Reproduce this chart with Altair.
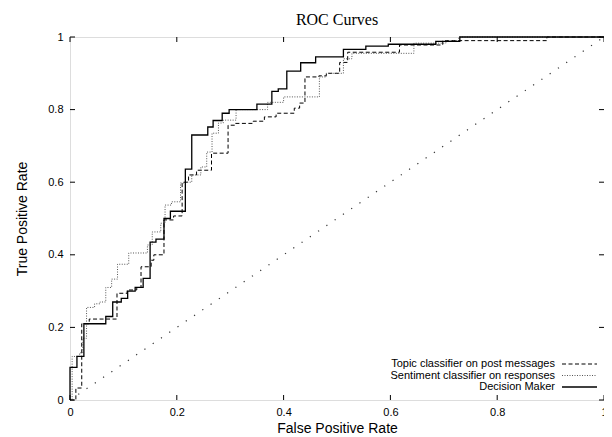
import altair as alt
import pandas as pd

# ---- data ----
topic_x = [0, 0.011, 0.022, 0.036, 0.088, 0.107, 0.125, 0.133, 0.152, 0.157, 0.176, 0.194,
           0.21, 0.222, 0.237, 0.265, 0.296, 0.309, 0.343, 0.364, 0.386, 0.42, 0.43, 0.44,
           0.466, 0.48, 0.505, 0.52, 0.617, 0.617, 0.698, 0.893, 1.0]
topic_y = [0, 0.033, 0.21, 0.223, 0.294, 0.303, 0.31, 0.367, 0.385, 0.40, 0.496, 0.507,
           0.60, 0.62, 0.633, 0.68, 0.757, 0.762, 0.768, 0.78, 0.79, 0.804, 0.818, 0.89,
           0.893, 0.90, 0.93, 0.958, 0.967, 0.978, 0.99, 1.0, 1.0]

senti_x = [0, 0.004, 0.018, 0.024, 0.031, 0.046, 0.056, 0.067, 0.078, 0.089, 0.11, 0.145,
           0.154, 0.17, 0.178, 0.19, 0.207, 0.216, 0.228, 0.245, 0.256, 0.266, 0.278, 0.287,
           0.311, 0.37, 0.40, 0.467, 0.467, 0.48, 0.512, 0.528, 0.644, 0.644, 0.704, 0.728, 1.0]
senti_y = [0, 0.12, 0.13, 0.17, 0.255, 0.265, 0.27, 0.31, 0.333, 0.374, 0.405, 0.427,
           0.463, 0.487, 0.537, 0.546, 0.598, 0.60, 0.62, 0.642, 0.683, 0.735, 0.763, 0.771,
           0.80, 0.82, 0.835, 0.868, 0.89, 0.90, 0.94, 0.955, 0.962, 0.983, 0.99, 1.0, 1.0]

dm_x = [0, 0, 0.013, 0.026, 0.067, 0.08, 0.096, 0.108, 0.122, 0.137, 0.15, 0.161, 0.176,
        0.188, 0.216, 0.228, 0.258, 0.268, 0.285, 0.298, 0.35, 0.378, 0.39, 0.406, 0.432,
        0.46, 0.512, 0.554, 0.596, 0.685, 0.73, 1.0]
dm_y = [0, 0.09, 0.12, 0.21, 0.23, 0.27, 0.28, 0.30, 0.31, 0.335, 0.435, 0.443, 0.50,
        0.52, 0.636, 0.73, 0.752, 0.77, 0.79, 0.80, 0.815, 0.85, 0.857, 0.906, 0.929,
        0.945, 0.966, 0.975, 0.98, 0.988, 1.0, 1.0]

diag_x = [0, 1]
diag_y = [0, 1]

tick_values = [0, 0.2, 0.4, 0.6, 0.8, 1.0]
series_names = ["Topic classifier on post messages",
                "Sentiment classifier on responses",
                "Decision Maker"]

W, H = 534, 363
FONT = "Liberation Sans"

xscale = alt.Scale(domain=[0, 1], nice=False, zero=False)
yscale = alt.Scale(domain=[0, 1], nice=False, zero=False)
xaxis = alt.Axis(values=tick_values, format="~g", tickSize=0, domain=False, grid=False,
                 labelFont=FONT, labelFontSize=11, labelPadding=6, labelColor="black",
                 title="False Positive Rate", titleFont=FONT, titleFontSize=14,
                 titleFontWeight="normal", titlePadding=4, titleColor="black",
                 labelFlush=False)
yaxis = alt.Axis(values=tick_values, format="~g", tickSize=0, domain=False, grid=False,
                 labelFont=FONT, labelFontSize=11, labelPadding=7, labelColor="black",
                 title="True Positive Rate", titleFont=FONT, titleFontSize=14,
                 titleFontWeight="normal", titlePadding=18, titleColor="black",
                 labelFlush=False)


def X(f="x"):
    return alt.X(f"{f}:Q", scale=xscale, axis=xaxis)


def Y(f="y"):
    return alt.Y(f"{f}:Q", scale=yscale, axis=yaxis)


def curve(xs, ys, **style):
    df = pd.DataFrame({"x": xs, "y": ys, "i": range(len(xs))})
    return alt.Chart(df).mark_line(interpolate="step-after", **style).encode(
        x=X(), y=Y(), order=alt.Order("i:Q"))


diag = alt.Chart(pd.DataFrame({"x": diag_x, "y": diag_y})).mark_line(
    color="#333", strokeWidth=1.2, strokeDash=[1.2, 8.8]).encode(x=X(), y=Y())

topic = curve(topic_x, topic_y, color="black", strokeWidth=1, strokeDash=[4, 2.5])
senti = curve(senti_x, senti_y, color="#555", strokeWidth=1, strokeDash=[1, 1.5])
dm = curve(dm_x, dm_y, color="black", strokeWidth=1.3)

ticks = pd.DataFrame({"x": tick_values, "y": tick_values})
tb = alt.Chart(ticks).mark_rule(color="black").encode(x=X(), y=alt.value(H), y2=alt.value(H - 5))
tt = alt.Chart(ticks).mark_rule(color="black").encode(x=X(), y=alt.value(0), y2=alt.value(5))
tl = alt.Chart(ticks).mark_rule(color="black").encode(y=Y(), x=alt.value(0), x2=alt.value(5))
tr = alt.Chart(ticks).mark_rule(color="black").encode(y=Y(), x=alt.value(W), x2=alt.value(W - 5))

# legend (text right-aligned, line sample to its right)
leg_rows = [327, 338.5, 350]
leg_styles = [dict(color="black", strokeWidth=1, strokeDash=[4, 2.5]),
              dict(color="#555", strokeWidth=1, strokeDash=[1, 1.5]),
              dict(color="black", strokeWidth=1.3)]
legend_layers = []
for name, ry, st in zip(series_names, leg_rows, leg_styles):
    d = pd.DataFrame({"name": [name]})
    legend_layers.append(
        alt.Chart(d).mark_text(align="right", baseline="middle", font=FONT, fontSize=11,
                               color="black").encode(
            text="name:N", x=alt.value(485), y=alt.value(ry)))
    legend_layers.append(
        alt.Chart(d).mark_rule(**st).encode(
            x=alt.value(492), x2=alt.value(527), y=alt.value(ry)))

chart = alt.layer(diag, topic, senti, dm, tb, tt, tl, tr, *legend_layers).properties(
    width=W, height=H,
    title=alt.TitleParams("ROC Curves", font="Liberation Serif", fontSize=16,
                          fontWeight="normal", color="black", offset=3, anchor="middle"),
    autosize=alt.AutoSizeParams(type="none"),
    padding={"left": 62, "top": 29, "right": 0, "bottom": 40},
).configure_view(stroke="black", strokeWidth=1).configure(background="white")

chart.save("out.html", embed_options={"renderer": "svg", "actions": False})
